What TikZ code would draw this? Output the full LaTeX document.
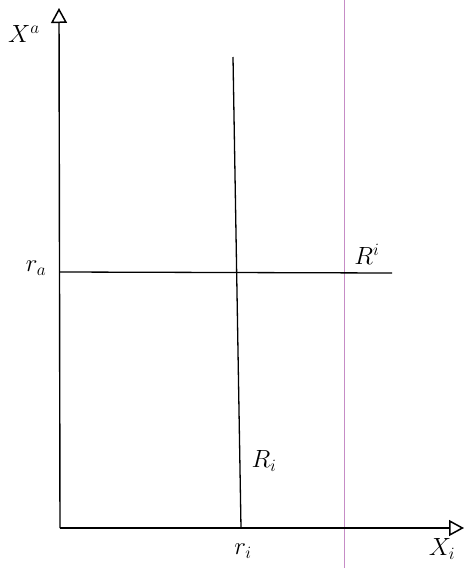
\documentclass[tikz,border=0pt]{standalone}
\usetikzlibrary{arrows.meta}
\begin{document}
\begin{tikzpicture}[x=1pt,y=-1pt,
  axis/.style={line width=1.4pt,-{Triangle[open,length=15pt,width=16pt,line width=1.5pt]}},
  ln/.style={line width=1.3pt},
  lab/.style={font=\fontsize{25}{30}\selectfont,inner sep=0pt}]
\useasboundingbox (0,0) rectangle (465,568);
\draw[violet!45,line width=0.6pt] (344,0) -- (344,568);
\coordinate (O) at (60,528);
\coordinate (ytop) at (59,8);
\coordinate (xend) at (464,528);
\draw[axis] (O) -- (ytop);
\draw[axis] (O) -- (xend);
\coordinate (rtop) at (233,57);
\coordinate (rbot) at (241,528);
\draw[ln] (rtop) -- (rbot);
\coordinate (hstart) at (60,272);
\coordinate (hend) at (392,273);
\draw[ln] (hstart) -- (hend);
\node[lab] (Xa) at (24,34) {$X^a$};
\node[lab] (ra) at (36,268) {$r_a$};
\node[lab] (Ri) at (367,254) {$R^i$};
\node[lab] (Rl) at (264,461) {$R_i$};
\node[lab] (ri) at (243,551) {$r_i$};
\node[lab] (Xi) at (442,549) {$X_i$};
\end{tikzpicture}
\end{document}
